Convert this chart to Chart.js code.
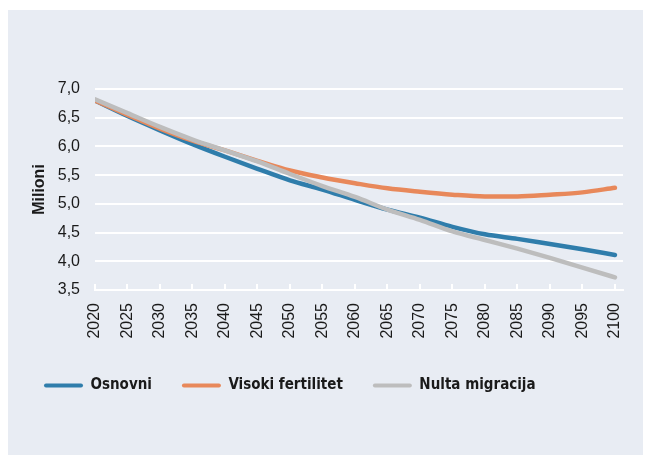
<!DOCTYPE html>
<html>
<head>
<meta charset="utf-8">
<script src="https://cdn.jsdelivr.net/npm/chart.js@4"></script>
<style>
  html, body { margin: 0; padding: 0; background: #ffffff; }
  #panel {
    position: absolute; left: 8px; top: 10px;
    width: 635px; height: 445px;
    background: #e8ecf3;
  }
</style>
</head>
<body>
<div id="panel"><canvas id="chart" width="635" height="445"></canvas></div>
<script>
// Years on the x axis
const years = [2020, 2025, 2030, 2035, 2040, 2045, 2050, 2055, 2060, 2065, 2070, 2075, 2080, 2085, 2090, 2095, 2100];

// Population projections, millions
const osnovni = [6.80, 6.53, 6.28, 6.04, 5.82, 5.61, 5.41, 5.25, 5.07, 4.90, 4.76, 4.60, 4.47, 4.39, 4.30, 4.21, 4.11];
const visokiFertilitet = [6.80, 6.55, 6.31, 6.10, 5.93, 5.75, 5.58, 5.46, 5.36, 5.27, 5.21, 5.16, 5.13, 5.13, 5.16, 5.20, 5.28];
const nultaMigracija = [6.82, 6.58, 6.34, 6.12, 5.93, 5.74, 5.52, 5.31, 5.12, 4.90, 4.72, 4.52, 4.37, 4.22, 4.06, 3.89, 3.72];

const seriesNames = ['Osnovni', 'Visoki fertilitet', 'Nulta migracija'];
const yTitle = 'Milioni';

const textColor = '#1a1a1a';
const tickFont = { family: "'Liberation Sans', Arial, sans-serif", size: 16 };

function toPoints(vals) {
    return years.map((yr, i) => ({ x: yr, y: vals[i] }));
}

function lineSet(label, vals, color, order) {
    return {
        label: label,
        data: toPoints(vals),
        borderColor: color,
        backgroundColor: color,
        borderWidth: 4.5,
        borderCapStyle: 'round',
        pointRadius: 0,
        cubicInterpolationMode: 'monotone',
        order: order
    };
}

// small white tick marks pointing up from the x axis line
const upTicks = {
    id: 'upTicks',
    afterDraw(chart) {
        const xs = chart.scales.x;
        const bottom = chart.chartArea.bottom;
        const ctx = chart.ctx;
        ctx.save();
        ctx.strokeStyle = '#ffffff';
        ctx.lineWidth = 2;
        xs.ticks.forEach(t => {
            const px = Math.round(xs.getPixelForValue(t.value));
            ctx.beginPath();
            ctx.moveTo(px, bottom);
            ctx.lineTo(px, bottom - 6);
            ctx.stroke();
        });
        ctx.restore();
    }
};

new Chart(document.getElementById('chart'), {
    type: 'line',
    data: {
        datasets: [
            lineSet(seriesNames[0], osnovni, '#2f7dab', 2),
            lineSet(seriesNames[1], visokiFertilitet, '#e8885a', 1),
            lineSet(seriesNames[2], nultaMigracija, '#bdbdbd', 0)
        ]
    },
    options: {
        responsive: false,
        animation: false,
        layout: { padding: { top: 79, right: 20, bottom: 52, left: 6 } },
        plugins: {
            tooltip: { enabled: false },
            legend: {
                position: 'bottom',
                align: 'start',
                labels: {
                    boxWidth: 39,
                    boxHeight: 4,
                    padding: 30,
                    color: textColor,
                    useBorderRadius: true,
                    borderRadius: 2,
                    font: { family: "'Liberation Sans Narrow', 'DejaVu Sans Condensed', sans-serif", size: 15, weight: 'bold' },
                    sort: (a, b) => a.datasetIndex - b.datasetIndex,
                    generateLabels(chart) {
                        const items = Chart.defaults.plugins.legend.labels.generateLabels(chart);
                        items.forEach(it => { it.lineWidth = 0; it.fillStyle = it.strokeStyle; });
                        return items;
                    }
                }
            }
        },
        scales: {
            x: {
                type: 'linear',
                min: 2020,
                max: 2101.24,
                grid: { display: false },
                border: { display: true, color: '#ffffff', width: 2 },
                afterFit: s => { s.height = 58; },
                ticks: {
                    stepSize: 5,
                    includeBounds: false,
                    autoSkip: false,
                    minRotation: 90,
                    maxRotation: 90,
                    padding: 5,
                    color: textColor,
                    font: tickFont,
                    callback: v => String(v)
                }
            },
            y: {
                min: 3.5,
                max: 7.0,
                grid: { color: '#ffffff', lineWidth: 2, drawTicks: false },
                border: { display: false },
                afterFit: s => { s.width = 81; },
                ticks: {
                    stepSize: 0.5,
                    padding: 15,
                    color: textColor,
                    font: tickFont,
                    callback: v => v.toFixed(1).replace('.', ',')
                },
                title: {
                    display: true,
                    text: yTitle,
                    color: textColor,
                    font: { family: "'Liberation Sans', Arial, sans-serif", size: 16, weight: 'bold' },
                    padding: { top: 16, bottom: 8 }
                }
            }
        }
    },
    plugins: [upTicks]
});
</script>
</body>
</html>
